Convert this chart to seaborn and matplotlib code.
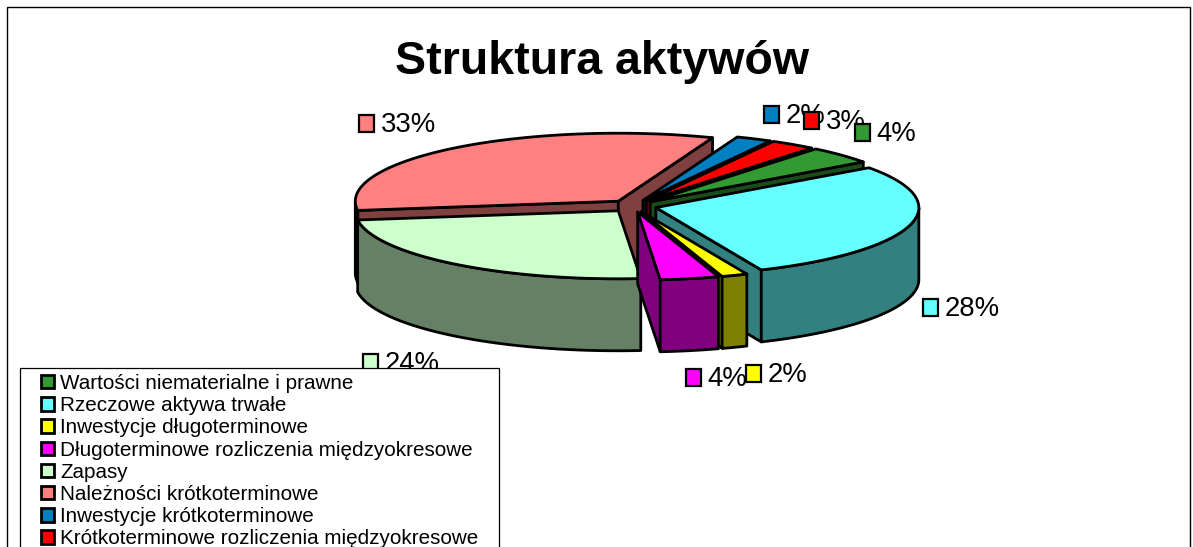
import numpy as np
import matplotlib
matplotlib.use("Agg")
import matplotlib.pyplot as plt
from matplotlib.patches import Patch, Rectangle
import seaborn as sns

categories = ["Wartości niematerialne i prawne", "Rzeczowe aktywa trwałe",
              "Inwestycje długoterminowe", "Długoterminowe rozliczenia międzyokresowe",
              "Zapasy", "Należności krótkoterminowe", "Inwestycje krótkoterminowe",
              "Krótkoterminowe rozliczenia międzyokresowe"]
shares = [4.2, 28.4, 1.6, 3.6, 24.2, 33.0, 2.2, 2.8]
top_colors = ["#339933", "#66FFFF", "#FFFF00", "#FF00FF", "#CCFFCC", "#FF8080", "#0080C0", "#FF0000"]

# layout of the pseudo-3D pie (pixel units of the axes)
CX, CY, RX, RY, DEPTH, EXPLODE, START = 633, 206, 263, 68, 72, 0.09, 51
LABEL_POS = [(862, 132), (930, 307), (753, 373), (693, 377), (370, 362), (366, 123), (771, 114), (811, 120)]
LABEL_ORDER = [5, 4, 3, 2, 1, 6, 7, 0]
DRAW_ORDER = [5, 6, 7, 0, 1, 4, 2, 3]

sns.set_theme(style="white")
plt.rcParams["font.family"] = ["Liberation Sans", "DejaVu Sans"]
palette = sns.color_palette(top_colors)

fig, ax = plt.subplots(figsize=(11.93, 5.47), dpi=100)
ax.set_position([0, 0, 1, 1])
ax.set_xlim(0, 1193)
ax.set_ylim(547, 0)
ax.axis("off")
ax.add_patch(Rectangle((7, 7), 1183, 560, fc="white", ec="black", lw=1.0, zorder=0))
ax.text(602, 62, "Struktura aktywów", fontsize=33.5, fontweight="bold", color="black",
        ha="center", va="center", zorder=1)

shares_arr = np.array(shares, dtype=float)
ends = START - np.cumsum(shares_arr) / shares_arr.sum() * 360
starts = ends + shares_arr / shares_arr.sum() * 360
mids = (starts + ends) / 2
LW = 2.0


def rim(t, ox, oy):
    r = np.radians(t)
    return ox + RX * np.cos(r), oy - RY * np.sin(r)


def face(xs, ys, color, z):
    ax.fill(xs, ys, facecolor=color, edgecolor="black", lw=LW, joinstyle="round", zorder=z)


for k, i in enumerate(DRAW_ORDER):
    t0, t1, m = starts[i], ends[i], mids[i]
    ox = CX + EXPLODE * RX * np.cos(np.radians(m))
    oy = CY - EXPLODE * RY * np.sin(np.radians(m))
    top = palette[i]
    side = tuple(c * 0.5 for c in top)
    z = 2 + k * 0.1
    # radial faces turned towards the viewer
    for t, vis in ((t0, np.cos(np.radians(t0)) < 0), (t1, np.cos(np.radians(t1)) > 0)):
        if vis:
            x, y = rim(t, ox, oy)
            face([ox, x, x, ox], [oy, y, y + DEPTH, oy + DEPTH], side, z)
    # outer wall: only the arc on the front half
    ts = np.linspace(t1, t0, 160)
    front = np.sin(np.radians(ts)) <= 0
    if front.any():
        xa, ya = rim(ts[front], ox, oy)
        face(np.r_[xa, xa[::-1]], np.r_[ya, (ya + DEPTH)[::-1]], side, z)
    xa, ya = rim(ts, ox, oy)
    face(np.r_[ox, xa], np.r_[oy, ya], top, z + 0.05)

for k, i in enumerate(LABEL_ORDER):
    mx, my = LABEL_POS[i]
    z = 4 + k * 0.1
    ax.add_patch(Rectangle((mx - 7.5, my - 8.5), 15, 17, fc=palette[i], ec="black", lw=1.6, zorder=z))
    ax.text(mx + 14.5, my + 2, f"{shares[i]:.0f}%", fontsize=19.8, color="black",
            ha="left", va="center", zorder=z)

# legend box runs past the lower edge of the picture
ax.add_patch(Rectangle((20, 368), 479, 200, fc="white", ec="black", lw=0.9, zorder=9))
handles = [Patch(facecolor=palette[i], edgecolor="black", lw=2.0) for i in range(len(categories))]
leg = ax.legend(handles, categories, loc="upper left", bbox_to_anchor=(41, 374),
                bbox_transform=ax.transData, fontsize=14.9, frameon=False, borderaxespad=0,
                borderpad=0, labelspacing=0.155, handlelength=0.62, handleheight=0.62,
                handletextpad=0.3, labelcolor="black")
leg.set_zorder(10)

fig.savefig("out.png", dpi=100)
